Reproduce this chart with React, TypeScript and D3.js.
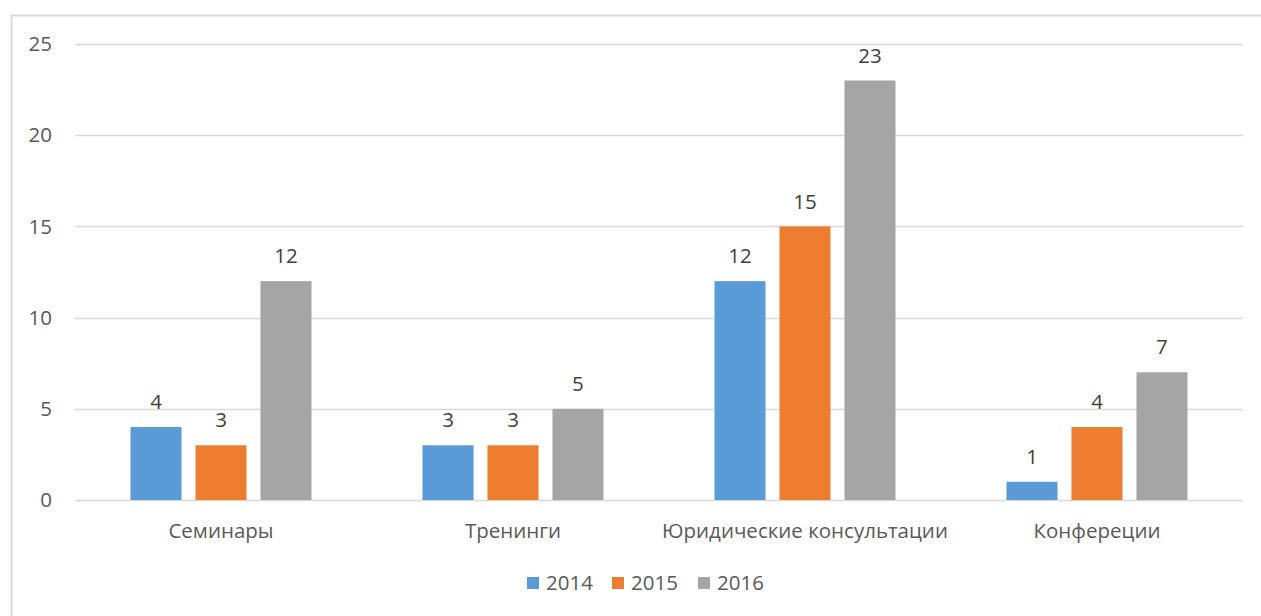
import React from 'react';
import * as d3 from 'd3';

// данные
const categories = ['Семинары', 'Тренинги', 'Юридические консультации', 'Конфереции'];
const seriesNames = ['2014', '2015', '2016'];
const values2014 = [4, 3, 12, 1];
const values2015 = [3, 3, 15, 4];
const values2016 = [12, 5, 23, 7];
const yTicks = [0, 5, 10, 15, 20, 25];

const colors = ['#5B9BD5', '#ED7D31', '#A5A5A5'];
const font = '"Open Sans", "DejaVu Sans", sans-serif';
const fs = 20.5;

const W = 1261;
const H = 616;
const left = 75;
const right = 1243;
const top = 44;
const bottom = 500;

export default function App() {
  const allValues = [values2014, values2015, values2016];

  const x0 = d3.scaleBand<string>().domain(categories).range([left, right]);
  const groupW = 181;
  const x1 = d3.scaleBand<string>().domain(seriesNames).range([0, groupW]).paddingInner(0.215);
  const y = d3.scaleLinear().domain([0, 25]).range([bottom, top]);

  return (
    <svg width={W} height={H} style={{ position: 'absolute', left: 0, top: 0, background: '#fff' }}>
      {/* рамка */}
      <rect x={11.5} y={15.5} width={1400} height={800} fill="#fff" stroke="#D9D9D9" strokeWidth={2} />

      {/* сетка и подписи оси Y */}
      {yTicks.map((t) => (
        <g key={t}>
          <line x1={left} x2={right} y1={Math.round(y(t)) + 0.5} y2={Math.round(y(t)) + 0.5} stroke="#D9D9D9" strokeWidth={1.3} />
          <text x={52} y={y(t)} dy="0.35em" textAnchor="end" fontFamily={font} fontSize={fs} fill="#595959">
            {t}
          </text>
        </g>
      ))}

      {/* столбцы */}
      {categories.map((c, ci) => {
        const gx = (x0(c) as number) + (x0.bandwidth() - groupW) / 2;
        return (
          <g key={c} transform={`translate(${gx},0)`}>
            {seriesNames.map((s, si) => {
              const v = allValues[si][ci];
              const bx = x1(s) as number;
              return (
                <g key={s}>
                  <rect x={bx} y={y(v)} width={x1.bandwidth()} height={bottom - y(v)} fill={colors[si]} />
                  <text
                    x={bx + x1.bandwidth() / 2}
                    y={y(v) - 25}
                    dy="0.35em"
                    textAnchor="middle"
                    fontFamily={font}
                    fontSize={fs}
                    fill="#404040"
                  >
                    {v}
                  </text>
                </g>
              );
            })}
          </g>
        );
      })}

      {/* подписи категорий */}
      {categories.map((c) => (
        <text
          key={c}
          x={(x0(c) as number) + x0.bandwidth() / 2}
          y={531}
          dy="0.35em"
          textAnchor="middle"
          fontFamily={font}
          fontSize={fs}
          fill="#595959"
        >
          {c}
        </text>
      ))}

      {/* легенда */}
      {seriesNames.map((s, i) => {
        const lx = [527, 612, 698][i];
        return (
          <g key={s}>
            <rect x={lx} y={577} width={12} height={12} fill={colors[i]} />
            <text x={lx + 19} y={583} dy="0.35em" fontFamily={font} fontSize={fs} fill="#595959">
              {s}
            </text>
          </g>
        );
      })}
    </svg>
  );
}
